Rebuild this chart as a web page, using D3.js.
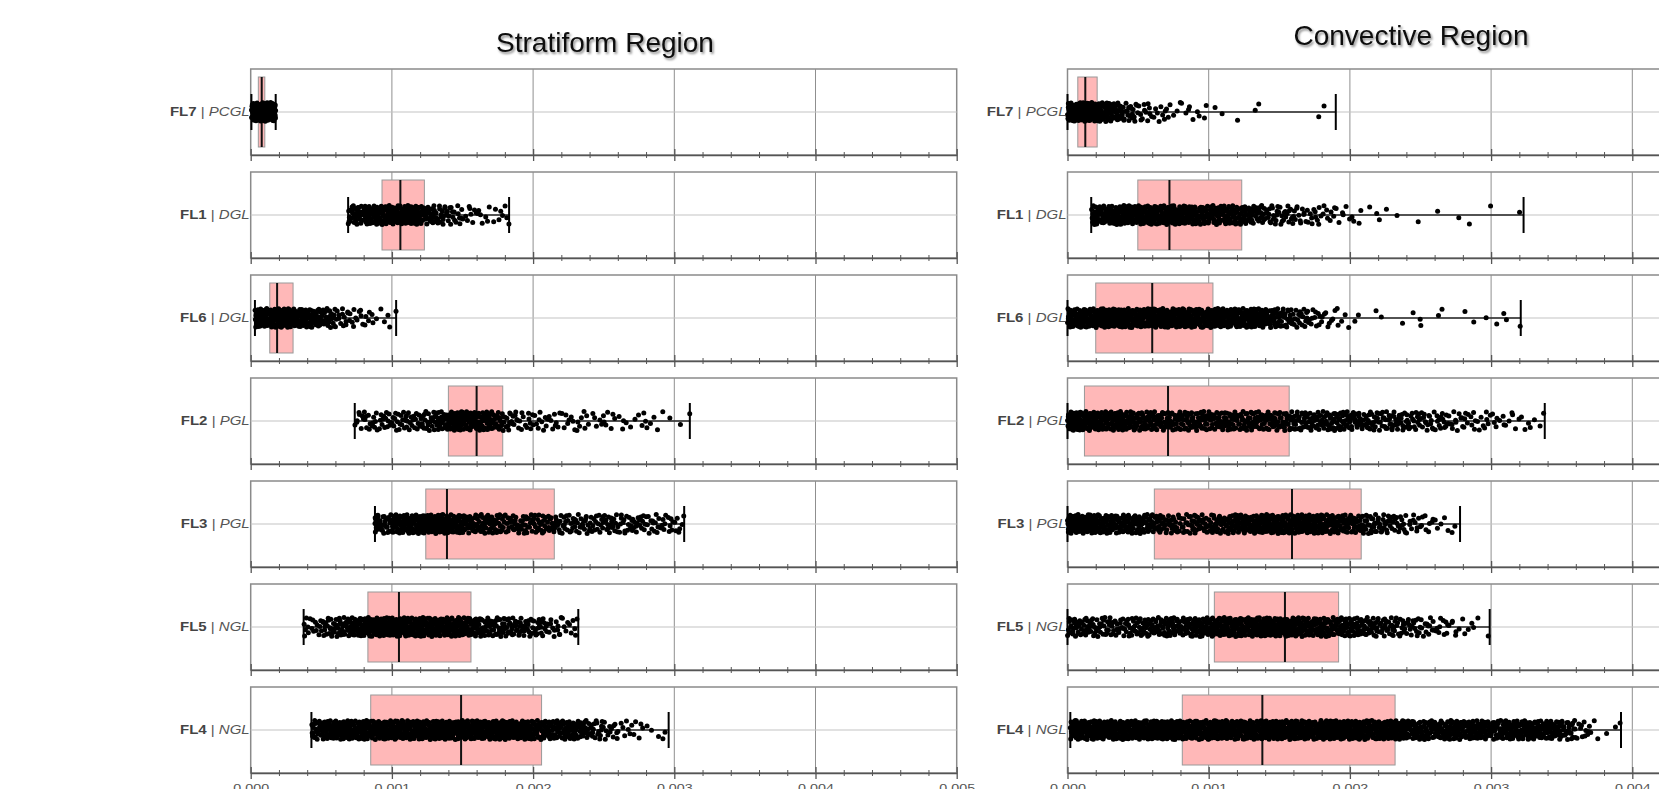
<!DOCTYPE html>
<html>
<head>
<meta charset="utf-8">
<script src="https://cdn.jsdelivr.net/npm/d3@7"></script>
<style>
  body { margin: 0; background: #fff; }
  text { font-family: "Liberation Sans", Arial, sans-serif; }
</style>
</head>
<body>
<script>
// rows, top to bottom
const fl = ["FL7", "FL1", "FL6", "FL2", "FL3", "FL5", "FL4"];
const glClass = ["PCGL", "DGL", "DGL", "PGL", "PGL", "NGL", "NGL"];
const regionTitles = ["Stratiform Region", "Convective Region"];
const xTickValues = [0, 0.001, 0.002, 0.003, 0.004, 0.005];

// [min, q1, median, q3, max] per row
const stratBox = [
  [0.000005, 0.000054, 0.000078, 0.0001, 0.000177],
  [0.00069, 0.00093, 0.00106, 0.00123, 0.00183],
  [0.00003, 0.000135, 0.000187, 0.0003, 0.00103],
  [0.000737, 0.0014, 0.0016, 0.001785, 0.00311],
  [0.00088, 0.00124, 0.00139, 0.00215, 0.00307],
  [0.000375, 0.00083, 0.00105, 0.00156, 0.00232],
  [0.00043, 0.00085, 0.00149, 0.00206, 0.00296]
];
const convBox = [
  [0, 0.000073, 0.000126, 0.00021, 0.0019],
  [0.000168, 0.000498, 0.000722, 0.001234, 0.00323],
  [0, 0.0002, 0.0006, 0.00103, 0.00321],
  [0, 0.00012, 0.000712, 0.00157, 0.00338],
  [0, 0.000615, 0.00159, 0.00208, 0.00278],
  [0, 0.00104, 0.00154, 0.00192, 0.00299],
  [0.00002, 0.000813, 0.00138, 0.00232, 0.00392]
];

// point counts per 0.0001-wide bin, first bin index per row
const stratStart = [0, 6, 0, 7, 8, 3, 4];
const stratCounts = [
  [60, 50],
  [4, 30, 38, 42, 42, 38, 30, 21, 15, 9, 7, 5, 3],
  [38, 45, 45, 42, 33, 24, 15, 10, 7, 4, 1],
  [8, 14, 14, 17, 17, 20, 30, 38, 38, 33, 26, 17, 11, 11, 9, 8, 8, 6, 6, 5, 5, 4, 2, 1, 1],
  [12, 27, 36, 39, 42, 42, 36, 30, 27, 24, 21, 21, 20, 20, 18, 18, 18, 18, 16, 16, 15, 12, 7],
  [4, 12, 21, 30, 36, 39, 42, 42, 42, 42, 39, 36, 33, 30, 27, 24, 21, 18, 13, 8, 2],
  [21, 36, 39, 42, 42, 42, 42, 42, 42, 42, 42, 42, 42, 42, 39, 39, 36, 33, 30, 24, 18, 12, 8, 5, 3, 2]
];
const convStart = [0, 1, 0, 0, 0, 0, 0];
const convCounts = [
  [52, 52, 45, 33, 18, 12, 8, 6, 5, 4, 2, 0, 1, 2, 0, 0, 0, 1, 1],
  [9, 39, 42, 42, 42, 42, 39, 36, 33, 33, 30, 26, 22, 19, 16, 13, 11, 8, 6, 4, 2, 2, 1, 1, 0, 1, 1, 1, 1, 0, 0, 1],
  [42, 42, 42, 42, 42, 42, 42, 42, 42, 42, 42, 42, 42, 42, 33, 24, 17, 13, 8, 5, 2, 1, 1, 1, 2, 1, 2, 0, 2, 1, 2, 1, 1],
  [45, 42, 36, 33, 30, 30, 30, 27, 27, 27, 27, 27, 27, 27, 27, 25, 25, 24, 24, 24, 22, 21, 21, 19, 18, 16, 14, 12, 10, 9, 7, 6, 4, 3],
  [42, 39, 36, 33, 30, 27, 24, 21, 21, 21, 24, 27, 30, 36, 39, 39, 39, 36, 33, 30, 27, 24, 20, 16, 11, 8, 5, 2],
  [24, 21, 21, 21, 21, 24, 24, 27, 27, 30, 33, 36, 36, 36, 36, 36, 36, 33, 33, 30, 27, 24, 21, 18, 16, 13, 10, 7, 4, 2],
  [42, 42, 42, 42, 42, 42, 42, 42, 42, 42, 42, 42, 42, 42, 42, 42, 42, 42, 42, 42, 42, 42, 42, 42,
   33, 33, 33, 33, 33, 33, 33, 33, 33, 33, 30, 24, 11, 3, 2, 1]
];

const binW = 0.0001;
const W = 1659, H = 789;

const svg = d3.select("body").append("svg")
    .attr("width", W)
    .attr("height", H);

const defs = svg.append("defs");
defs.append("filter").attr("id", "shadow")
    .attr("x", "-10%").attr("y", "-30%").attr("width", "120%").attr("height", "160%")
  .append("feDropShadow")
    .attr("dx", 1.5).attr("dy", 2).attr("stdDeviation", 1.3)
    .attr("flood-color", "#000").attr("flood-opacity", 0.45);

const y = d3.scaleBand()
    .domain(fl)
    .range([69, 773])
    .paddingInner(17 / 103)
    .paddingOuter(0);
const rowH = y.bandwidth();
const jitter = d3.scaleLinear().domain([-1, 1]).range([-9.5, 9.5]);

const panels = [
  {title: regionTitles[0], range: [250.7, 956.7], box: stratBox, start: stratStart, counts: stratCounts, tx: 605, ty: 52},
  {title: regionTitles[1], range: [1067.5, 1773.5], box: convBox, start: convStart, counts: convCounts, tx: 1411, ty: 45}
];

// low-discrepancy sequence used only to spread dots inside a bin
function halton(i, b) {
  let f = 1, r = 0;
  while (i > 0) { f /= b; r += f * (i % b); i = Math.floor(i / b); }
  return r;
}

function makePoints(box, start, counts, seed) {
  const pts = [];
  let idx = seed;
  counts.forEach((n, k) => {
    const b0 = (start + k) * binW;
    const lo = Math.max(b0, box[0]), hi = Math.min(b0 + binW, box[4]);
    if (hi <= lo) return;
    for (let j = 0; j < n; j++) {
      idx++;
      pts.push({v: lo + halton(idx, 2) * (hi - lo), j: halton(idx, 3) * 2 - 1});
    }
  });
  return pts;
}

// minor ticks every 0.0002 inside 0..0.005
const minorTicks = d3.range(0, 26).filter(d => d % 5 !== 0).map(d => d * 0.0002);

panels.forEach((p, pi) => {
  const x = d3.scaleLinear().domain([0, 0.005]).range(p.range);
  const g = svg.append("g");

  g.append("text")
      .attr("x", p.tx)
      .attr("y", p.ty)
      .attr("text-anchor", "middle")
      .attr("font-size", 28)
      .attr("fill", "#111")
      .attr("filter", "url(#shadow)")
      .text(p.title);

  fl.forEach((name, i) => {
    const top = y(name), cy = top + rowH / 2;
    const row = g.append("g");
    const b = p.box[i];

    row.append("rect")
        .attr("x", x(0)).attr("y", top)
        .attr("width", x(0.005) - x(0)).attr("height", rowH)
        .attr("fill", "#fff").attr("stroke", "#8a8a8a").attr("stroke-width", 1.5);

    row.selectAll(".vgrid").data(xTickValues.slice(1, -1)).enter().append("line")
        .attr("x1", d => x(d)).attr("x2", d => x(d))
        .attr("y1", top).attr("y2", top + rowH)
        .attr("stroke", "#8f8f8f").attr("stroke-width", 1);

    row.append("line")
        .attr("x1", x(0)).attr("x2", x(0.005))
        .attr("y1", cy).attr("y2", cy)
        .attr("stroke", "#c4c4c4").attr("stroke-width", 1.2);

    row.append("rect")
        .attr("x", x(b[1])).attr("y", top + 8)
        .attr("width", x(b[3]) - x(b[1])).attr("height", rowH - 16)
        .attr("fill", "#ffb8b8").attr("stroke", "#999").attr("stroke-width", 1);

    row.append("line")
        .attr("x1", x(b[0])).attr("x2", x(b[4]))
        .attr("y1", cy).attr("y2", cy)
        .attr("stroke", "#222").attr("stroke-width", 1.6);

    row.selectAll(".cap").data([b[0], b[4]]).enter().append("line")
        .attr("x1", d => x(d)).attr("x2", d => x(d))
        .attr("y1", cy - 18).attr("y2", cy + 18)
        .attr("stroke", "#000").attr("stroke-width", 2);

    row.append("line")
        .attr("x1", x(b[2])).attr("x2", x(b[2]))
        .attr("y1", top + 8).attr("y2", top + rowH - 8)
        .attr("stroke", "#111").attr("stroke-width", 2);

    const pts = makePoints(b, p.start[i], p.counts[i], 17 + i * 131 + pi * 977);
    row.selectAll(".pt").data(pts).enter().append("circle")
        .attr("cx", d => x(d.v))
        .attr("cy", d => cy + jitter(d.j))
        .attr("r", 2.5)
        .attr("fill", "#000");

    // bottom axis: minor and major ticks crossing the line
    const minorAxis = row.append("g")
        .attr("transform", `translate(0,${top + rowH})`)
        .call(d3.axisBottom(x).tickValues(minorTicks).tickSize(3).tickSizeOuter(0).tickFormat(""));
    minorAxis.select(".domain").remove();
    minorAxis.selectAll(".tick line").attr("y1", -3).attr("y2", 3).attr("stroke", "#555");

    const majorAxis = row.append("g")
        .attr("transform", `translate(0,${top + rowH})`)
        .call(d3.axisBottom(x).tickValues(xTickValues).tickSize(6).tickSizeOuter(0)
          .tickFormat(i === fl.length - 1 ? d3.format(".3f") : ""));
    majorAxis.select(".domain").attr("stroke", "#555").attr("stroke-width", 1.5);
    majorAxis.selectAll(".tick line").attr("y1", -6).attr("y2", 6).attr("stroke", "#555").attr("stroke-width", 1.3);
    majorAxis.selectAll(".tick text")
        .attr("y", 11)
        .attr("font-size", 11)
        .attr("font-family", "Liberation Sans, Arial, sans-serif")
        .attr("fill", "#555")
        .attr("transform", "scale(1.3,1)");

    const lab = row.append("text")
        .attr("text-anchor", "end")
        .attr("dy", "0.35em")
        .attr("font-size", 12)
        .attr("transform", `translate(${x(0) - 1},${cy}) scale(1.25,1)`);
    lab.append("tspan").attr("font-weight", "bold").attr("fill", "#444").text(name);
    lab.append("tspan").attr("fill", "#555").text(" | ");
    lab.append("tspan").attr("font-style", "italic").attr("fill", "#555").text(glClass[i]);
  });
});
</script>
</body>
</html>
